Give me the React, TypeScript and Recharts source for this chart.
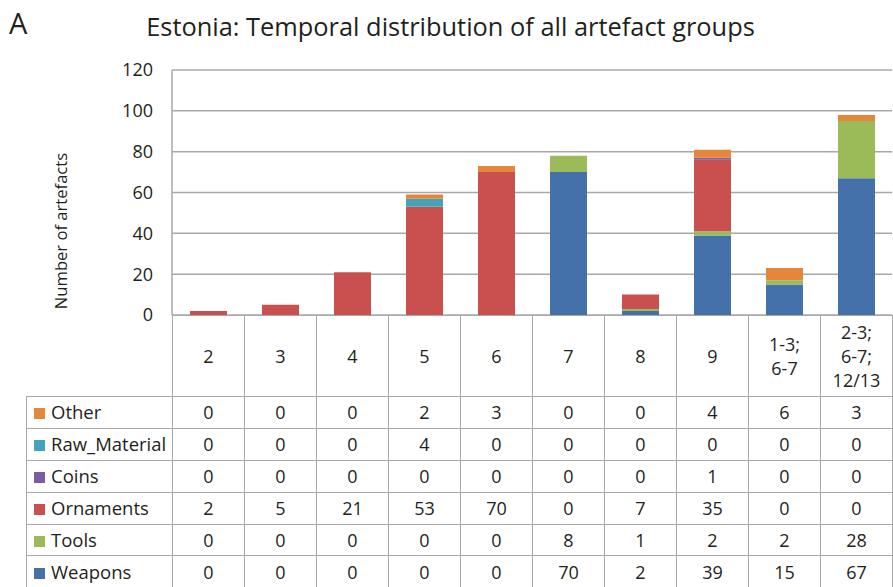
import { BarChart, Bar, XAxis, YAxis, CartesianGrid } from 'recharts';

// categories (time periods) and the six artefact groups
const categories = ['2', '3', '4', '5', '6', '7', '8', '9', '1-3;\n6-7', '2-3;\n6-7;\n12/13'];
const weapons = [0, 0, 0, 0, 0, 70, 2, 39, 15, 67];
const tools = [0, 0, 0, 0, 0, 8, 1, 2, 2, 28];
const ornaments = [2, 5, 21, 53, 70, 0, 7, 35, 0, 0];
const coins = [0, 0, 0, 0, 0, 0, 0, 1, 0, 0];
const rawMaterial = [0, 0, 0, 4, 0, 0, 0, 0, 0, 0];
const other = [0, 0, 0, 2, 3, 0, 0, 4, 6, 3];
const yTicks = [0, 20, 40, 60, 80, 100, 120];

// stack order, bottom to top
const seriesNames = ['Weapons', 'Tools', 'Ornaments', 'Coins', 'Raw_Material', 'Other'];
const seriesValues = [weapons, tools, ornaments, coins, rawMaterial, other];

const COLORS: Record<string, string> = {
  Weapons: '#4471a9',
  Tools: '#9bbb59',
  Ornaments: '#c9504f',
  Coins: '#7c5ea0',
  Raw_Material: '#43a3bb',
  Other: '#e4873a',
};

const data = categories.map((c, i) => {
  const row: Record<string, string | number> = { category: c };
  seriesNames.forEach((n, j) => {
    row[n] = seriesValues[j][i];
  });
  return row;
});

const GRID = '#a8a8a8';
const TEXT = '#231f20';
const FONT = '"Open Sans", sans-serif';

const cell = {
  border: `1.5px solid ${GRID}`,
  padding: 0,
  textAlign: 'center' as const,
  fontSize: 18,
  lineHeight: '20px',
  height: 30.9,
};

const App = () => {
  return (
    <div
      style={{
        position: 'absolute',
        left: 0,
        top: 0,
        width: 893,
        height: 587,
        background: '#fff',
        fontFamily: FONT,
        color: TEXT,
        overflow: 'hidden',
      }}
    >
      <div style={{ position: 'absolute', left: 9, top: 5, fontSize: 29, lineHeight: '36px' }}>A</div>
      <div
        style={{
          position: 'absolute',
          left: 0,
          width: 901,
          top: 9,
          textAlign: 'center',
          fontSize: 25.4,
          lineHeight: '34px',
        }}
      >
        Estonia: Temporal distribution of all artefact groups
      </div>
      <div
        style={{
          position: 'absolute',
          left: 60,
          top: 231,
          fontSize: 16.6,
          whiteSpace: 'nowrap',
          transform: 'translate(-50%, -50%) rotate(-90deg)',
        }}
      >
        Number of artefacts
      </div>

      <div style={{ position: 'absolute', left: 0, top: 0 }}>
        <BarChart
          width={893}
          height={335}
          data={data}
          margin={{ top: 70, right: 1, bottom: 20, left: 0 }}
          barSize={37}
        >
          <CartesianGrid vertical={false} stroke={GRID} strokeWidth={1.5} />
          <XAxis dataKey="category" hide />
          <YAxis
            width={172}
            domain={[0, 120]}
            ticks={yTicks}
            tickLine={false}
            tickSize={0}
            tickMargin={19}
            axisLine={{ stroke: GRID, strokeWidth: 1.5 }}
            tick={{ fill: TEXT, fontSize: 18, fontFamily: FONT }}
          />
          {seriesNames.map((n) => (
            <Bar key={n} dataKey={n} stackId="a" fill={COLORS[n]} isAnimationActive={false} />
          ))}
        </BarChart>
      </div>

      <table
        style={{
          position: 'absolute',
          left: 26,
          top: 315,
          width: 866,
          borderCollapse: 'collapse',
          tableLayout: 'fixed',
          fontFamily: FONT,
          color: TEXT,
        }}
      >
        <colgroup>
          <col style={{ width: 146 }} />
          {categories.map((c) => (
            <col key={c} style={{ width: 72 }} />
          ))}
        </colgroup>
        <tbody>
          <tr>
            <td style={{ padding: 0, height: 80, border: 'none' }} />
            {categories.map((c) => (
              <td
                key={c}
                style={{ ...cell, height: 80, whiteSpace: 'pre-line', lineHeight: '24px' }}
              >
                {c}
              </td>
            ))}
          </tr>
          {[...seriesNames].reverse().map((n) => {
            const vals = seriesValues[seriesNames.indexOf(n)];
            return (
              <tr key={n}>
                <td style={{ ...cell, textAlign: 'left', whiteSpace: 'nowrap', fontSize: 18.5 }}>
                  <span
                    style={{
                      display: 'inline-block',
                      width: 11,
                      height: 11,
                      background: COLORS[n],
                      marginLeft: 7,
                      marginRight: 6,
                    }}
                  />
                  {n}
                </td>
                {vals.map((v, i) => (
                  <td key={i} style={cell}>
                    {v}
                  </td>
                ))}
              </tr>
            );
          })}
        </tbody>
      </table>
    </div>
  );
};

export default App;
